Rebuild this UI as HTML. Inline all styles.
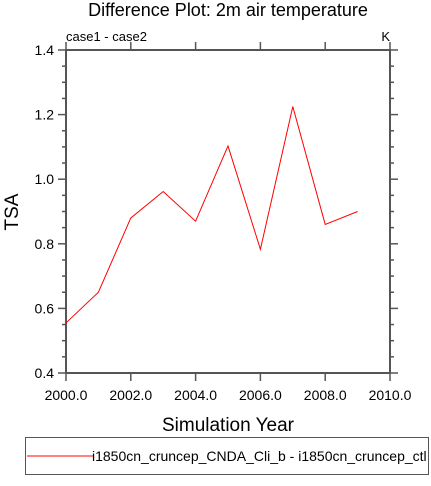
<!DOCTYPE html>
<html><head><meta charset="utf-8"><style>
body{margin:0;background:#fff;width:431px;height:481px;overflow:hidden;font-family:"Liberation Sans",sans-serif}
</style></head><body>
<svg id="chart" width="431" height="481" font-family="Liberation Sans, sans-serif">
<text x="228" y="16" font-size="18" text-anchor="middle">Difference Plot: 2m air temperature</text>
<text x="66" y="41" font-size="13">case1 - case2</text>
<text x="390" y="41" font-size="13" text-anchor="end">K</text>
<g id="axes"></g>
<text x="228" y="431" font-size="19" text-anchor="middle">Simulation Year</text>
<text x="18" y="212" font-size="19" text-anchor="middle" transform="rotate(-90 18 212)">TSA</text>
<g>
<rect x="25.5" y="437.5" width="403" height="37" fill="none" stroke="#555" stroke-width="1"/>
<line x1="27" y1="456" x2="93" y2="456" stroke="red" stroke-width="1"/>
<text x="92" y="461" font-size="14">i1850cn_cruncep_CNDA_Cli_b - i1850cn_cruncep_ctl</text>
</g>
</svg>
<script>
const years=[2000,2001,2002,2003,2004,2005,2006,2007,2008,2009];
const values=[0.555,0.65,0.88,0.962,0.87,1.103,0.783,1.225,0.86,0.90];
const xTicks=[2000,2002,2004,2006,2008,2010];
const yTicks=[0.4,0.6,0.8,1.0,1.2,1.4];
const L=66,R=390,T=50,B=373;
const xs=v=>L+(v-2000)/10*(R-L);
const ys=v=>B-(v-0.4)/1.0*(B-T);
const NS="http://www.w3.org/2000/svg";
const g=document.getElementById('axes');
function mk(tag,a){const e=document.createElementNS(NS,tag);for(const k in a)e.setAttribute(k,a[k]);g.appendChild(e);return e;}
const c="#555";
const frame=mk('rect',{x:L,y:T,width:R-L,height:B-T,fill:'none',stroke:c,'stroke-width':2});


xTicks.forEach(v=>{const x=xs(v);
mk('line',{x1:x,y1:B,x2:x,y2:B+8,stroke:c,'stroke-width':1.5});
mk('line',{x1:x,y1:T,x2:x,y2:T-8,stroke:c,'stroke-width':1.5});});
for(let i=0;i<=20;i++){const v=0.4+i*0.05;const y=ys(v);const len=i%4==0?8:4;
mk('line',{x1:L,y1:y,x2:L-len,y2:y,stroke:c,'stroke-width':1.5});
mk('line',{x1:R,y1:y,x2:R+len,y2:y,stroke:c,'stroke-width':1.5});}
xTicks.forEach(v=>{const t=mk('text',{x:xs(v),y:B+27,'font-size':14,'text-anchor':'middle'});t.textContent=v.toFixed(1);

});
yTicks.forEach(v=>{const t=mk('text',{x:L-12,y:ys(v)+5,'font-size':14,'text-anchor':'end'});t.textContent=v.toFixed(1);

});
const p=mk('polyline',{points:years.map((y,i)=>xs(y)+','+ys(values[i])).join(' '),fill:'none',stroke:'red','stroke-width':1});


</script>
</body></html>
